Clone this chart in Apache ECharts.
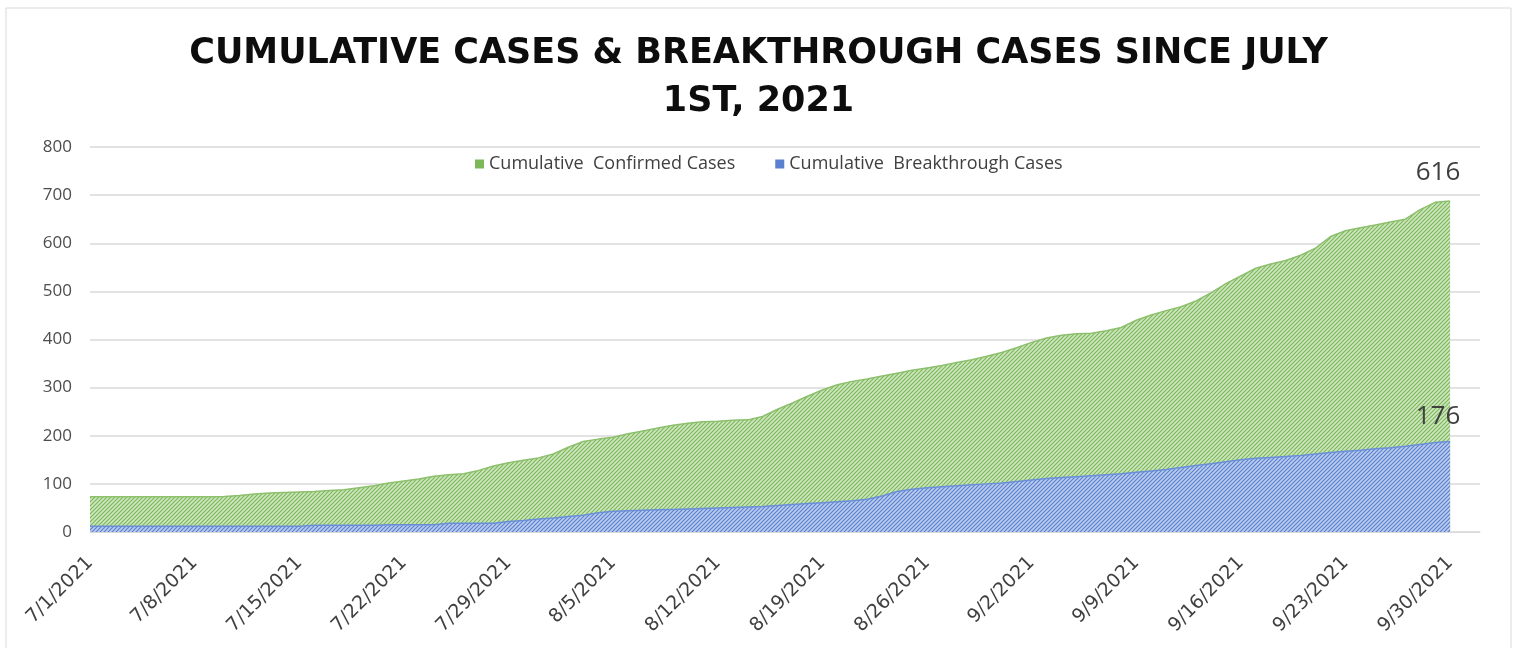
<!DOCTYPE html>
<html>
<head>
<meta charset="utf-8">
<script src="https://cdn.jsdelivr.net/npm/echarts@6/dist/echarts.min.js"></script>
<style>
  html, body { margin: 0; padding: 0; background: #fff; }
  #chart { width: 1517px; height: 648px; }
</style>
</head>
<body>
<div id="chart"></div>
<script>
// cumulative confirmed cases, one value per day 7/1 .. 9/30
const confirmed = [
  73, 73, 73, 73, 73, 73, 73, 73, 73, 74,
  76, 79, 81, 82, 83, 84, 86, 88, 92, 96,
  102, 106, 110, 116, 119, 121, 128, 137, 144, 149,
  154, 162, 176, 188, 193, 197, 204, 210, 216, 222,
  226, 229, 230, 232, 233, 240, 255, 268, 282, 295,
  306, 313, 318, 324, 330, 336, 341, 346, 352, 358,
  365, 373, 383, 394, 403, 409, 412, 413, 418, 425,
  440, 451, 460, 468, 480, 497, 516, 532, 548, 557,
  564, 575, 590, 614, 626, 632, 638, 644, 650, 670,
  685, 688
];
// cumulative breakthrough cases, same days
const breakthrough = [
  12, 12, 12, 12, 12, 12, 12, 12, 12, 12,
  12, 12, 12, 12, 12, 14, 14, 14, 14, 14,
  15, 15, 15, 15, 18, 18, 18, 18, 22, 24,
  27, 29, 32, 35, 40, 43, 44, 45, 46, 47,
  48, 49, 50, 51, 52, 53, 55, 57, 59, 61,
  63, 65, 68, 75, 84, 89, 92, 94, 96, 98,
  100, 102, 105, 108, 111, 113, 115, 117, 119, 121,
  124, 127, 130, 134, 138, 142, 146, 150, 153, 155,
  157, 159, 162, 165, 168, 170, 173, 175, 178, 182,
  186, 188
];
const seriesNames = ['Cumulative  Confirmed Cases', 'Cumulative  Breakthrough Cases'];
const titleLines = ['CUMULATIVE CASES & BREAKTHROUGH CASES SINCE JULY', '1ST, 2021'];
const endNotes = ['616', '176'];

// day labels 7/1/2021 .. 10/2/2021 (axis runs two days past the data)
const days = [];
for (let d = new Date(2021, 6, 1); d <= new Date(2021, 9, 2); d.setDate(d.getDate() + 1)) {
  days.push((d.getMonth() + 1) + '/' + d.getDate() + '/' + d.getFullYear());
}

function hatch(bg, fg) {
  const c = document.createElement('canvas');
  c.width = 4;
  c.height = 4;
  const ctx = c.getContext('2d');
  ctx.fillStyle = bg;
  ctx.fillRect(0, 0, 4, 4);
  ctx.strokeStyle = fg;
  ctx.lineWidth = 1.2;
  ctx.beginPath();
  ctx.moveTo(0, 4); ctx.lineTo(4, 0);
  ctx.moveTo(-1, 1); ctx.lineTo(1, -1);
  ctx.moveTo(3, 5); ctx.lineTo(5, 3);
  ctx.stroke();
  return { image: c, repeat: 'repeat' };
}

const titleStyle = {
  fontFamily: 'DejaVu Sans',
  fontWeight: 'bold',
  fontSize: 35,
  color: '#0d0d0d'
};

const noteStyle = {
  fontFamily: 'Open Sans',
  fontSize: 26,
  fill: '#404040',
  align: 'center',
  verticalAlign: 'middle'
};

const chart = echarts.init(document.getElementById('chart'));

chart.setOption({
  animation: false,
  title: [
    { text: titleLines[0], left: 'center', top: 31, textStyle: titleStyle },
    { text: titleLines[1], left: 'center', top: 79, textStyle: titleStyle }
  ],
  legend: {
    top: 150,
    left: 470,
    itemWidth: 9,
    itemHeight: 9,
    itemGap: 40,
    icon: 'rect',
    textStyle: { fontFamily: 'Open Sans', fontSize: 18, color: '#404040' },
    data: seriesNames
  },
  grid: { left: 90, right: 37, top: 147, bottom: 116 },
  xAxis: {
    type: 'category',
    boundaryGap: false,
    data: days,
    axisLine: { lineStyle: { color: '#d9d9d9' } },
    axisTick: { show: false },
    axisLabel: {
      interval: 6,
      rotate: 45,
      margin: 28,
      fontFamily: 'DejaVu Sans',
      fontSize: 19,
      color: '#404040'
    }
  },
  yAxis: {
    type: 'value',
    min: 0,
    max: 800,
    interval: 100,
    axisLine: { show: false },
    axisTick: { show: false },
    axisLabel: { margin: 18, fontFamily: 'Open Sans', fontSize: 17, color: '#4d4d4d' },
    splitLine: { lineStyle: { color: '#d9d9d9', width: 1.5 } }
  },
  series: [
    {
      name: seriesNames[0],
      type: 'line',
      data: confirmed,
      symbol: 'none',
      itemStyle: { color: '#7cb85a' },
      lineStyle: { color: '#8cc06c', width: 1.5 },
      areaStyle: { color: hatch('#cfe6c0', '#7cb85a'), opacity: 1 }
    },
    {
      name: seriesNames[1],
      type: 'line',
      data: breakthrough,
      symbol: 'none',
      itemStyle: { color: '#5a80d0' },
      lineStyle: { color: '#6a8fd8', width: 1.5 },
      areaStyle: { color: hatch('#bccdee', '#5a80d0'), opacity: 1 }
    }
  ],
  graphic: [
    {
      type: 'rect',
      silent: true,
      z: 100,
      shape: { x: 6, y: 8, width: 1505, height: 660 },
      style: { fill: 'none', stroke: '#d9d9d9', lineWidth: 1 }
    },
    { type: 'text', z: 100, x: 1438, y: 173, style: Object.assign({ text: endNotes[0] }, noteStyle) },
    { type: 'text', z: 100, x: 1438, y: 417, style: Object.assign({ text: endNotes[1] }, noteStyle) }
  ]
});
</script>
</body>
</html>
